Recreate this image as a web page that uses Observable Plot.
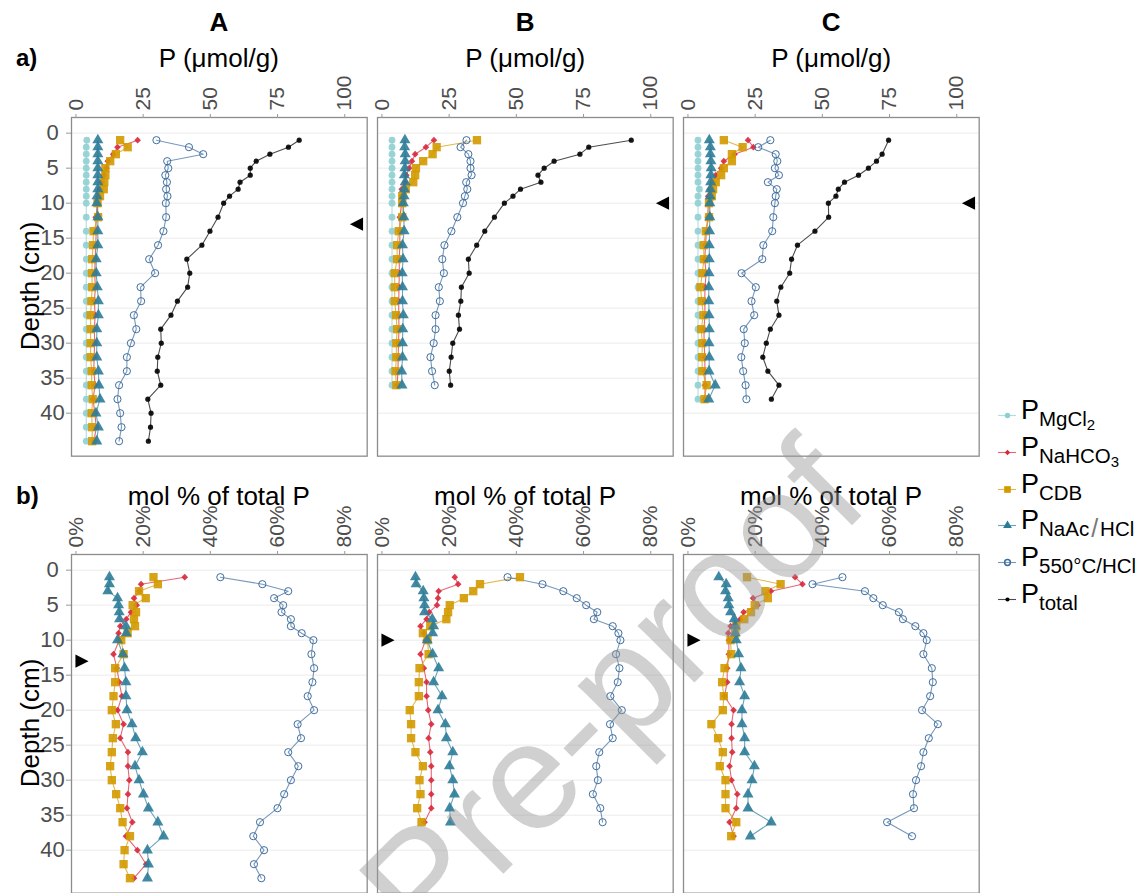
<!DOCTYPE html>
<html><head><meta charset="utf-8">
<script src="https://cdn.jsdelivr.net/npm/d3@7"></script>
<script src="https://cdn.jsdelivr.net/npm/@observablehq/plot@0.6"></script>
<style>
body{margin:0;background:#fff;font-family:"Liberation Sans",Arial,sans-serif;}
#root{position:relative;width:1144px;height:893px;overflow:hidden;background:#fff;}
.abs{position:absolute;white-space:nowrap;color:#000;}
.panel{position:absolute;}
.s1{font-size:20.5px;vertical-align:-7px;}
.s2{font-size:15px;vertical-align:-4px;}
</style></head><body><div id="root"></div>
<script>
// ---------------- DATA ----------------
const sites = ["A", "B", "C"];
const markerDepth = [13, 10, 10];
const depthA = [1,2,3,4,5,6,7,8,9,10,12,14,16,18,20,22,24,26,28,30,32,34,36,38,40,42,44];
const depthB = [1,2,3,4,5,6,7,8,9,10,12,14,16,18,20,22,24,26,28,30,32,34,36];
const depthC = [1,2,3,4,5,6,7,8,9,10,12,14,16,18,20,22,24,26,28,30,32,34,36,38];
const yTicks = [0,5,10,15,20,25,30,35,40];
const xTicksTop = [0,25,50,75,100];
const xTicksBottom = [0,20,40,60,80];

// a) P (umol/g)
const mgcl2A  = [0.7,0.5,0.5,0.5,0.5,0.5,0.5,0.5,0.5,0.5,0.5,0.5,0.5,0.5,0.5,0.5,0.5,0.5,0.5,0.5,0.5,0.5,0.5,0.5,0.5,0.5,0.5];
const nahco3A = [19.6,12.1,10.5,8.5,8.0,7.0,6.2,5.5,5.0,4.8,4.0,4.2,4.0,3.8,3.6,3.9,3.5,3.8,3.5,3.6,3.4,3.3,3.8,3.0,3.7,4.2,3.4];
const cdbA    = [13.1,15.9,11.5,9.4,7.6,7.6,7.2,7.0,5.6,4.7,4.9,3.2,3.0,2.7,2.6,2.7,2.4,2.1,2.1,2.1,2.1,2.5,2.5,2.9,2.5,2.7,2.7];
const naacA   = [4.8,4.8,4.8,4.8,4.8,4.8,4.8,4.8,4.5,4.4,4.8,4.8,4.8,4.2,4.2,4.6,5.0,5.0,4.4,4.4,4.4,5.0,5.2,5.6,4.1,5.0,4.4];
const p550A   = [26.6,38.7,44.0,30.6,31.0,29.9,30.5,30.2,30.7,30.1,30.2,29.2,27.2,23.9,26.1,20.7,20.9,18.2,19.1,17.1,15.6,15.6,12.7,12.1,13.1,13.6,12.7];
const totalA  = [79.7,75.7,68.8,63.7,61.5,61.5,57.7,57.0,53.8,51.6,49.5,46.5,43.5,37.9,39.0,38.2,34.4,32.0,28.2,28.4,27.1,26.9,28.2,23.4,24.6,24.4,23.6];

const mgcl2B  = [0.4,0.4,0.4,0.4,0.4,0.4,0.4,0.4,0.4,0.4,0.4,0.4,0.4,0.4,0.4,0.4,0.4,0.4,0.4,0.4,0.4,0.4,0.4];
const nahco3B = [16,13,9,7.8,6.8,5.7,5.3,4,4,4,3.3,3.3,3.3,3.1,3.1,3,2.9,2.9,3,2.8,2.7,2.6,2.3];
const cdbB    = [32,17,15.5,12,9.3,9,8.3,5.5,4.2,4.2,4.2,2.9,2.3,2.3,1.4,1.4,1.4,1.9,2.3,2.0,2.0,1.7,2.0];
const naacB   = [5.2,5.1,5.3,5.3,5.2,5.0,5.3,5.0,4.9,4.6,4.8,4.9,4.3,4.5,4.2,4.3,4.3,4.6,4.4,4.3,4.3,4.0,4.1];
const p550B   = [28.1,25.9,28.8,29.6,29.6,30.0,28.0,28.4,27.5,26.8,24.7,22.5,19.9,19.1,19.7,17.8,18.2,16.6,16.6,15.9,14.7,15.3,16.3];
const totalB  = [89.4,73.6,70.3,60.7,57.0,54.7,55.8,48.2,45.4,42.2,38.5,34.9,31.9,28.8,29.1,26.2,26.0,25.1,25.5,23.0,22.4,21.7,22.2];

const mgcl2C  = [0.4,0.4,0.4,0.4,0.4,0.4,0.4,0.9,0.4,0.4,0.4,0.4,0.4,0.4,0.4,0.4,0.4,0.4,0.4,0.4,0.4,0.4,0.4,0.4];
const nahco3C = [19,21,14,10,9,7,6,4.7,4.2,4.2,4,3.5,3.2,2.9,3.4,3,2.9,3,2.6,2.7,2.9,3,3,3];
const cdbC    = [10,17,13,13,10,9,7,6,5.5,4.5,4.5,3.3,2.5,2.6,2.0,1.3,1.8,2.4,1.6,2.0,1.9,2.0,3.6,2.8];
const naacC   = [4.6,5.0,5.0,5.2,5.3,5.2,5.1,5.0,4.9,4.8,4.8,4.7,4.6,4.6,4.5,4.4,4.4,4.5,4.6,4.5,4.6,4.5,6.8,4.4];
const p550C   = [27.3,22.8,29.3,29.9,29.0,30.5,26.4,29.7,29.3,29.0,28.4,28.0,24.7,24.3,16.6,21.9,20.3,21.3,17.4,17.8,16.5,17.2,18.1,18.4];
const totalC  = [71.3,null,68.9,66.8,63.8,60.1,54.9,52.6,51.7,48.9,49.0,43.9,37.4,35.2,34.5,31.2,29.7,30.5,27.3,25.8,24.5,26.4,30.5,27.7];

// b) mol % of total P
const nahco3PctA = [29.7,16.7,16.2,14.6,15.4,13.7,12.3,10.5,10.0,10.2,8.5,9.5,10.2,11.0,9.7,11.5,10.5,12.8,12.8,13.2,12.8,12.5,14.1,12.2,15.6,18.2,14.6];
const cdbPctA    = [20.4,21.7,16.1,18.1,14.2,15.2,14.6,14.9,12.7,10.8,11.5,9.0,9.0,8.5,8.0,9.2,8.3,8.0,7.5,8.0,9.3,10.5,11.2,13.4,11.8,11.5,13.4];
const naacPctA   = [7.3,7.3,6.8,9.7,10.0,10.2,10.3,12.2,12.3,9.7,11.3,11.8,12.2,12.2,12.5,14.0,15.1,17.1,14.9,16.1,17.4,18.9,21.7,23.4,18.6,18.9,18.6];
const p550PctA   = [40.3,52.8,60.5,56.3,59.0,58.5,61.3,61.3,64.5,68.0,67.4,68.2,67.7,66.3,68.2,63.3,64.3,60.5,63.5,61.3,59.3,57.3,52.1,50.1,53.3,50.3,52.5];

const nahco3PctB = [19.0,20.0,14.2,14.0,13.7,11.4,10.6,8.8,9.8,10.3,8.8,9.8,10.6,10.6,11.1,12.0,11.2,11.7,12.0,12.0,12.0,12.0,10.0];
const cdbPctB    = [38.4,26.5,24.5,21.7,17.5,17.0,16.5,11.7,9.5,10.9,11.2,8.5,8.3,8.3,5.6,6.0,6.0,7.3,9.5,8.5,8.8,7.8,9.1];
const naacPctB   = [7.3,7.5,9.6,9.8,10.0,10.0,12.3,12.7,12.4,10.8,12.4,14.2,12.7,15.2,14.0,16.2,16.5,18.4,17.4,18.4,18.9,17.5,17.7];
const p550PctB   = [34.7,45.1,51.3,55.3,58.1,61.4,60.4,66.0,67.7,68.3,67.0,68.0,67.5,65.3,68.7,65.2,66.0,62.0,61.1,61.6,60.1,62.3,63.0];

const nahco3PctC = [29.2,31.4,22.0,16.7,18.1,13.9,12.9,10.0,9.3,9.5,9.5,9.0,9.0,8.2,10.9,10.3,10.3,10.5,9.7,10.3,12.0,11.7,9.7,10.9];
const cdbPctC    = [14.9,24.9,20.4,21.1,17.2,16.1,14.1,11.7,11.4,10.0,10.2,8.2,7.5,8.0,7.7,4.3,6.3,7.7,6.8,8.5,8.5,8.5,11.7,10.2];
const naacPctC   = [6.5,8.7,8.5,9.3,9.5,10.0,11.1,11.4,11.4,11.7,12.4,13.1,12.7,14.2,13.4,13.4,14.2,14.2,17.1,16.4,15.2,15.2,22.1,15.9];
const p550PctC   = [43.3,34.4,50.0,52.5,55.3,60.1,61.3,65.0,67.4,68.4,67.4,69.9,70.2,69.4,67.0,71.7,69.0,67.4,66.7,65.2,64.3,64.6,56.6,64.0];

// ---------------- STYLE ----------------
const FR = {
  mg:   {color:"#8fcfd1", symbol:"circle",   r:3.4, fill:"#8fcfd1", stroke:"none"},
  na:   {color:"#d8283c", symbol:"diamond2", r:3.0, fill:"#d8283c", stroke:"none"},
  cdb:  {color:"#d39a00", symbol:"square",   r:4.7, fill:"#d39a00", stroke:"none"},
  naac: {color:"#2c7c98", symbol:"triangle", r:4.1, fill:"#2c7c98", stroke:"none"},
  p550: {color:"#3d6c9e", symbol:"circle",   r:3.6, fill:"none",    stroke:"#3d6c9e"},
  tot:  {color:"#000000", symbol:"circle",   r:2.6, fill:"#000000", stroke:"none"}
};

function rowsFor(depths, pairs) {
  const out = [];
  for (const [key, arr] of pairs) arr.forEach((v, i) => { if (v != null) out.push({key, depth: depths[i], value: v}); });
  return out;
}

const triLeft = {draw(ctx, size){ const s = Math.sqrt(size); ctx.moveTo(-s/2,0); ctx.lineTo(s/2,-s/2); ctx.lineTo(s/2,s/2); ctx.closePath(); }};
const triRight = {draw(ctx, size){ const s = Math.sqrt(size); ctx.moveTo(s/2,0); ctx.lineTo(-s/2,-s/2); ctx.lineTo(-s/2,s/2); ctx.closePath(); }};

const W = 295.7, H = 338.7;
const yDomain = [-2.24, 46.14];
const frameLefts = [71, 377.3, 683.3];
const root = document.getElementById("root");

function makePanel({rows, keys, col, frameTop, xDomain, xTicks, xFormat, marginTop, markerSide}) {
  const yAxis = col === 0;
  const mL = yAxis ? 71 : 2, mR = 3, mB = 2;
  const marks = [Plot.gridY(yTicks, {stroke:"#ebebeb", strokeOpacity:1, strokeWidth:1})];
  for (const k of keys) {
    const f = FR[k];
    marks.push(Plot.line(rows.filter(d => d.key === k), {x:"value", y:"depth", stroke:f.color, strokeWidth:1.1, strokeOpacity:0.7}));
  }
  for (const k of keys) {
    const f = FR[k];
    marks.push(Plot.dot(rows.filter(d => d.key === k), {x:"value", y:"depth", symbol:f.symbol, r:f.r, fill:f.fill, stroke:f.stroke, strokeWidth:1, fillOpacity:0.9}));
  }
  marks.push(Plot.dot([markerDepth[col]], {y: d => d, frameAnchor: markerSide, dx: markerSide === "right" ? -10.7 : 10.5,
    symbol: markerSide === "right" ? triLeft : triRight, r: 7.4, fill: "#000"}));
  marks.push(Plot.frame({stroke:"#8c8c8c", strokeWidth:1.3}));
  marks.push(Plot.axisX({anchor:"top", ticks:xTicks, tickFormat:xFormat, tickRotate:-90, fontSize:21, tickSize:4, tickPadding:3, dx:-9, fill:"#4d4d4d", stroke:"#999", label:null}));
  if (yAxis) marks.push(Plot.axisY({ticks:yTicks, tickSize:5, tickPadding:14, textAnchor:"middle", fontSize:22, fill:"#4d4d4d", stroke:"#999", label:null}));
  const svg = Plot.plot({
    width: mL + W + mR, height: marginTop + H + mB,
    marginLeft: mL, marginRight: mR, marginTop, marginBottom: mB,
    x: {domain: xDomain},
    y: {domain: yDomain, reverse: true, axis: yAxis ? undefined : null},
    style: {fontFamily: "Liberation Sans, Arial, sans-serif", background: "transparent", overflow: "visible"},
    marks
  });
  const wrap = document.createElement("div");
  wrap.className = "panel";
  wrap.style.left = (frameLefts[col] - mL) + "px";
  wrap.style.top = (frameTop - marginTop) + "px";
  wrap.appendChild(svg);
  root.appendChild(wrap);
}

const topSets = [
  rowsFor(depthA, [["mg",mgcl2A],["na",nahco3A],["cdb",cdbA],["naac",naacA],["p550",p550A],["tot",totalA]]),
  rowsFor(depthB, [["mg",mgcl2B],["na",nahco3B],["cdb",cdbB],["naac",naacB],["p550",p550B],["tot",totalB]]),
  rowsFor(depthC, [["mg",mgcl2C],["na",nahco3C],["cdb",cdbC],["naac",naacC],["p550",p550C],["tot",totalC]])
];
const bottomSets = [
  rowsFor(depthA, [["na",nahco3PctA],["cdb",cdbPctA],["naac",naacPctA],["p550",p550PctA]]),
  rowsFor(depthB, [["na",nahco3PctB],["cdb",cdbPctB],["naac",naacPctB],["p550",p550PctB]]),
  rowsFor(depthC, [["na",nahco3PctC],["cdb",cdbPctC],["naac",naacPctC],["p550",p550PctC]])
];

const TOP_FRAME = 117, BOTTOM_FRAME = 554.3;
for (let c = 0; c < 3; c++) {
  makePanel({rows: topSets[c], keys: ["mg","na","cdb","naac","p550","tot"], col: c, frameTop: TOP_FRAME,
    xDomain: [-5, 105], xTicks: xTicksTop, xFormat: d => String(d), marginTop: 60, markerSide: "right"});
  makePanel({rows: bottomSets[c], keys: ["na","cdb","naac","p550"], col: c, frameTop: BOTTOM_FRAME,
    xDomain: [-4, 84], xTicks: xTicksBottom, xFormat: d => d + "%", marginTop: 60, markerSide: "left"});
}

// ---------------- TEXT ----------------
function addText(html, x, y, css) {
  const d = document.createElement("div");
  d.className = "abs";
  d.innerHTML = html;
  Object.assign(d.style, {left: x + "px", top: y + "px"}, css || {});
  root.appendChild(d);
  return d;
}
const centers = frameLefts.map(l => l + W / 2);
sites.forEach((s, i) => {
  addText(s, centers[i], 22, {transform: "translate(-50%,-50%)", fontSize: "26px", fontWeight: "bold"});
  addText("P (\u03bcmol/g)", centers[i], 58, {transform: "translate(-50%,-50%)", fontSize: "26px"});
  addText("mol % of total P", centers[i], 495.5, {transform: "translate(-50%,-50%)", fontSize: "26px"});
});
addText("a)", 16, 58, {transform: "translateY(-50%)", fontSize: "24px", fontWeight: "bold"});
addText("b)", 16, 495.5, {transform: "translateY(-50%)", fontSize: "24px", fontWeight: "bold"});
addText("Depth (cm)", 30, 286, {transform: "translate(-50%,-50%) rotate(-90deg)", fontSize: "26px"});
addText("Depth (cm)", 30, 723, {transform: "translate(-50%,-50%) rotate(-90deg)", fontSize: "26px"});

// ---------------- LEGEND ----------------
const legendItems = [
  {k:"mg",   label:'P<span class="s1">MgCl<span class="s2">2</span></span>'},
  {k:"na",   label:'P<span class="s1">NaHCO<span class="s2">3</span></span>'},
  {k:"cdb",  label:'P<span class="s1">CDB</span>'},
  {k:"naac", label:'P<span class="s1">NaAc<span style="color:#777;font-size:25px;vertical-align:-1px;margin:0 2px">/</span>HCl</span>'},
  {k:"p550", label:'P<span class="s1">550\u00b0C/HCl</span>'},
  {k:"tot",  label:'P<span class="s1">total</span>'}
];
legendItems.forEach((it, i) => {
  const cy = 415 + i * 36.8;
  const f = FR[it.k];
  const key = Plot.plot({
    width: 18, height: 18, margin: 0, x: {domain: [0, 1], axis: null}, y: {domain: [0, 1], axis: null},
    style: {background: "transparent", overflow: "visible"},
    marks: [
      Plot.ruleY([0.5], {x1: 0, x2: 1, stroke: f.color, strokeWidth: 1.1, strokeOpacity: 0.7}),
      Plot.dot([0], {x: () => 0.5, y: () => 0.5, symbol: f.symbol, r: f.r * 0.8, fill: f.fill, stroke: f.stroke})
    ]
  });
  const kd = document.createElement("div");
  kd.className = "abs";
  kd.style.left = "998px"; kd.style.top = (cy - 9) + "px";
  kd.appendChild(key);
  root.appendChild(kd);
  addText(it.label, 1021, cy - 18, {fontSize: "27px", lineHeight: "27px"});
});

// ---------------- WATERMARK ----------------
addText("Pre-proof", 424, 953 - 128.7, {fontSize: "152px", lineHeight: "152px", color: "rgba(150,150,150,0.45)",
  transformOrigin: "0px 128.7px", transform: "rotate(-45deg)", pointerEvents: "none"});
</script>
</body></html>
